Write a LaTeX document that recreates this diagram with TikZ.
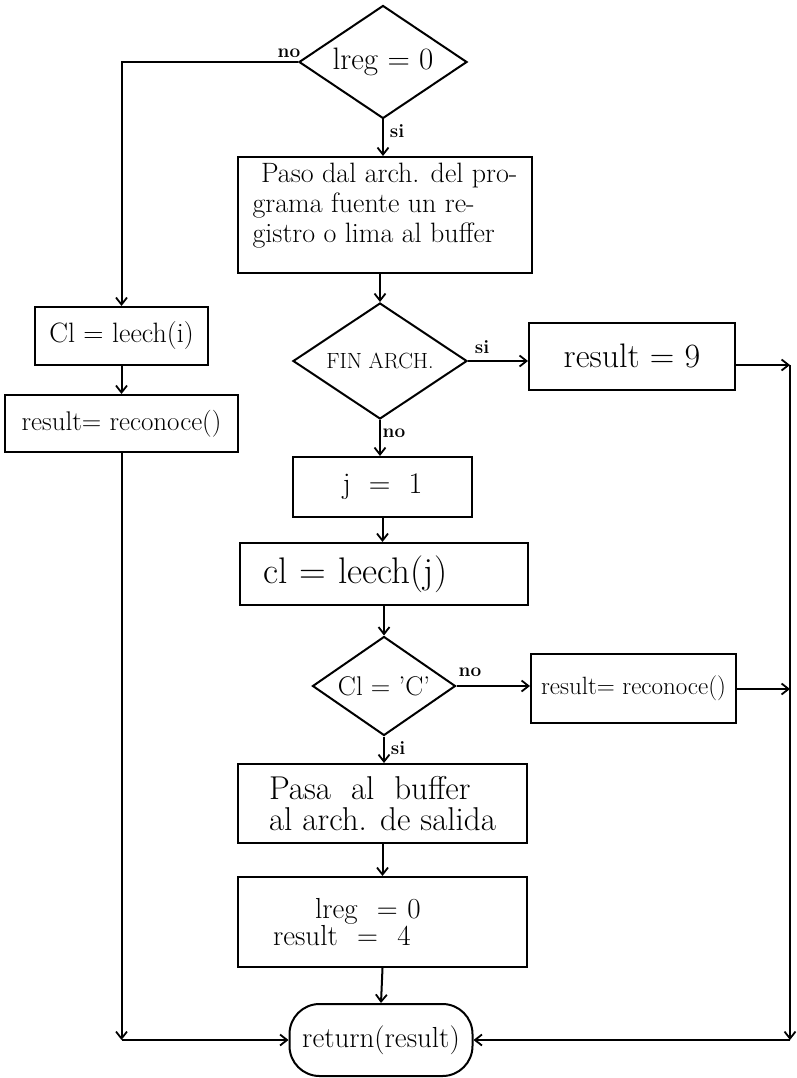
\documentclass[tikz,border=0pt]{standalone}
\usepackage{fontspec}
\usetikzlibrary{shapes.geometric,arrows.meta}

\begin{document}
\begin{tikzpicture}[x=1pt,y=-1pt,
  line width=2pt,
  flow/.style={-{Straight Barb[length=7pt,width=11pt,line width=1.8pt]}},
  box/.style={draw,rectangle,inner sep=2pt,align=center},
  cond/.style={draw,diamond,inner sep=0pt,align=center},
  term/.style={draw,rectangle,rounded corners=30pt,inner sep=0pt},
  lbl/.style={inner sep=0pt,font=\fontsize{19}{19}\selectfont\bfseries},
  fs/.style={font=\fontsize{#1}{#1}\selectfont}
]
\useasboundingbox (0,0) rectangle (796,1078);

% decisions
\node[cond,shape aspect=1.487,minimum width=168pt,minimum height=113pt,fs=31] (d1) at (383,62) {lreg = 0};
\node[cond,shape aspect=1.5,minimum width=174pt,minimum height=116pt,fs=22] (d2) at (380,361) {FIN ARCH.};
\node[cond,shape aspect=1.444,minimum width=143pt,minimum height=99pt,fs=27] (d3) at (384,686) {Cl = 'C'};

% main column
\node[box,minimum width=294pt,minimum height=116pt,align=left,
      font=\fontsize{28}{30}\selectfont] (paso) at (385,215)
  {\ Paso dal arch. del pro-\\grama fuente un re-\\gistro o lima al buffer\\[-6pt]};
\node[box,minimum width=179pt,minimum height=60pt,fs=30] (j1) at (382.5,487) {j\ \ =\ \ 1};
\node[box,minimum width=288pt,minimum height=62pt,text width=284pt,align=left,fs=37] (cl) at (384,574)
  {\hspace*{21pt}cl = leech(j)};
\node[box,minimum width=289pt,minimum height=79pt,align=left,
      font=\fontsize{33}{31}\selectfont] (pasa) at (382.5,803.5)
  {Pasa\ \ al\ \ buffer\\al arch. de salida};
\node[box,minimum width=289pt,minimum height=90pt,text width=285pt,align=left,
      font=\fontsize{29}{26}\selectfont] (lreg) at (382.5,922)
  {\hspace*{75pt}lreg\ \ = 0\\\hspace*{33pt}result\ \ =\ \ 4\\[12pt]};
\node[term,minimum width=183pt,minimum height=72pt,fs=29] (ret) at (381,1040) {return(result)};

% right column
\node[box,minimum width=206pt,minimum height=67pt,fs=34] (r9) at (632,356) {result = 9};
\node[box,minimum width=205pt,minimum height=69pt,fs=25] (rec) at (633.5,688.5) {result= reconoce()};

% left column
\node[box,minimum width=173pt,minimum height=58pt,fs=28] (ci) at (121.5,336) {Cl = leech(i)};
\node[box,minimum width=233pt,minimum height=57pt,fs=27] (cr) at (121.5,423.5) {result= reconoce()};

% branch labels
\node[lbl] (n1) at (289,53) {no};
\node[lbl] (s1) at (397,131) {si};
\node[lbl] (s2) at (482,347) {si};
\node[lbl] (n2) at (394,433) {no};
\node[lbl] (n3) at (470,672) {no};
\node[lbl] (s3) at (398,748) {si};

% return bus corners
\coordinate (rtop) at (790,365);
\coordinate (rmid) at (790,689);
\coordinate (rbot) at (790,1040);
\coordinate (lbot) at (121.5,1040);

% connectors
\draw[flow] (d1.west) -| (ci.north);
\draw[flow] (d1.south) -- (d1.south |- paso.north);
\draw[flow] (d2.north |- paso.south) -- (d2.north);
\draw[flow] (d2.east) -- (d2.east -| r9.west);
\draw[flow] (d2.south) -- (d2.south |- j1.north);
\draw[flow] (j1.south) -- (j1.south |- cl.north);
\draw[flow] (d3.north |- cl.south) -- (d3.north);
\draw[flow] (d3.east) -- (d3.east -| rec.west);
\draw[flow] (d3.south) -- (d3.south |- pasa.north);
\draw[flow] (pasa.south) -- (lreg.north);
\draw[flow] (lreg.south) -- (ret.north);

\draw[flow] (ci.south) -- (cr.north);
\draw[flow] (cr.south) -- (lbot);
\draw[flow] (lbot) -- (ret.west);

\draw[flow] (r9.east |- rtop) -- (rtop);
\draw[flow] (rec.east |- rmid) -- (rmid);
\draw[flow] (rtop) -- (rbot);
\draw[flow] (rbot) -- (ret.east);
\end{tikzpicture}
\end{document}
